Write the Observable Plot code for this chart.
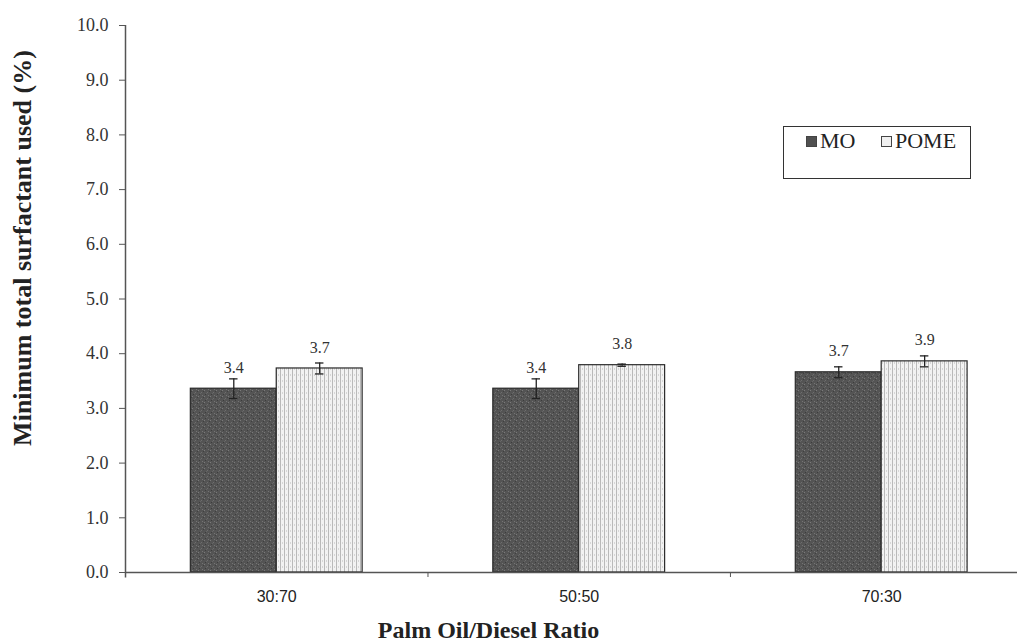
<!DOCTYPE html>
<html>
<head>
<meta charset="utf-8">
<script src="https://cdn.jsdelivr.net/npm/d3@7"></script>
<script src="https://cdn.jsdelivr.net/npm/@observablehq/plot@0.6"></script>
<style>
  html, body { margin: 0; padding: 0; background: #fff; }
  #wrap { position: relative; width: 1017px; height: 644px; }
  #legend {
    position: absolute; left: 783px; top: 126px; width: 186px; height: 51px;
    border: 1.5px solid #333; background: #fff; box-sizing: content-box;
    font-family: "Liberation Serif", "Times New Roman", serif; font-size: 22px; color: #222;
  }
  #legend .item { position: absolute; top: 1px; display: flex; align-items: center; height: 26px; }
  #legend .sw { width: 9px; height: 9px; border: 1px solid #444; margin-right: 3px; }
</style>
</head>
<body>
<div id="wrap"></div>
<script>
const categories = ["30:70", "50:50", "70:30"];
const seriesNames = ["MO", "POME"];
const moValues = [3.36, 3.36, 3.66];
const pomeValues = [3.73, 3.79, 3.86];
const moErrors = [0.18, 0.18, 0.10];
const pomeErrors = [0.10, 0.02, 0.10];
const yTicks = [0, 1, 2, 3, 4, 5, 6, 7, 8, 9, 10];
const xTitle = "Palm Oil/Diesel Ratio";
const yTitle = "Minimum total surfactant used (%)";

const half = 0.284;
const rows = [];
categories.forEach((c, i) => {
  rows.push({cat: c, series: "MO", x1: i - half, x2: i, xc: i - half / 2, value: moValues[i], err: moErrors[i]});
  rows.push({cat: c, series: "POME", x1: i, x2: i + half, xc: i + half / 2, value: pomeValues[i], err: pomeErrors[i]});
});
const mo = rows.filter(d => d.series === "MO");
const pome = rows.filter(d => d.series === "POME");
const cap = 0.014;

const chart = Plot.plot({
  width: 1017,
  height: 644,
  marginLeft: 125,
  marginRight: 0,
  marginTop: 25,
  marginBottom: 72,
  style: {fontFamily: "'Liberation Serif', 'Times New Roman', serif", color: "#222", background: "#fff"},
  x: {type: "linear", domain: [-0.5, 2.449], axis: null},
  y: {domain: [0, 10], axis: null},
  marks: [
    Plot.rectY(mo, {x1: "x1", x2: "x2", y1: 0, y2: "value", fill: "url(#moPat)", stroke: "#2a2a2a", strokeWidth: 1.2}),
    Plot.rectY(pome, {x1: "x1", x2: "x2", y1: 0, y2: "value", fill: "url(#pomePat)", stroke: "#2a2a2a", strokeWidth: 1.2}),
    Plot.ruleX(rows, {x: "xc", y1: d => d.value - d.err, y2: d => d.value + d.err, stroke: "#222", strokeWidth: 1.3}),
    Plot.ruleY(rows, {y: d => d.value + d.err, x1: d => d.xc - cap, x2: d => d.xc + cap, stroke: "#222", strokeWidth: 1.3}),
    Plot.ruleY(rows, {y: d => d.value - d.err, x1: d => d.xc - cap, x2: d => d.xc + cap, stroke: "#222", strokeWidth: 1.3}),
    Plot.text(rows, {x: "xc", y: "value", text: d => d.value.toFixed(1), dy: -21, fontSize: 16, fill: "#333"}),
    Plot.ruleY([0], {stroke: "#555", strokeWidth: 1.5}),
    Plot.ruleX([-0.5], {y1: -0.1, y2: 10, stroke: "#555", strokeWidth: 1.5}),
    Plot.axisY({ticks: yTicks, tickFormat: d => d.toFixed(1), tickSize: 6, tickPadding: 11, fontSize: 18, stroke: "#555", fill: "#333", label: null}),
    Plot.axisX({ticks: [0.5, 1.5], tickFormat: () => "", tickSize: 5, stroke: "#555", label: null}),
    Plot.axisX({ticks: [0, 1, 2], tickFormat: i => categories[i], tickSize: 0, tickPadding: 18, fontSize: 16, fontFamily: "'Liberation Sans', Arial, sans-serif", fill: "#222", label: null}),
    Plot.text([yTitle], {frameAnchor: "left", textAnchor: "middle", lineAnchor: "middle", rotate: -90, dx: -103, dy: -51, fontSize: 26, fontWeight: "bold", fill: "#222"}),
    Plot.text([xTitle], {frameAnchor: "bottom", textAnchor: "middle", lineAnchor: "middle", dx: -83, dy: 58, fontSize: 24, fontWeight: "bold", fill: "#222"})
  ]
});

const ns = "http://www.w3.org/2000/svg";
const defs = document.createElementNS(ns, "defs");
defs.innerHTML = `
  <pattern id="moPat" patternUnits="userSpaceOnUse" width="6" height="6">
    <rect width="6" height="6" fill="#545454"/>
    <rect x="0" y="0" width="1" height="1" fill="#7a7a7a"/>
    <rect x="3" y="2" width="1" height="1" fill="#6e6e6e"/>
    <rect x="1" y="4" width="1" height="1" fill="#3c3c3c"/>
    <rect x="4" y="5" width="1" height="1" fill="#747474"/>
    <rect x="5" y="1" width="1" height="1" fill="#404040"/>
    <rect x="2" y="3" width="1" height="1" fill="#666"/>
  </pattern>
  <pattern id="pomePat" patternUnits="userSpaceOnUse" width="4" height="6">
    <rect width="4" height="6" fill="#f2f2f2"/>
    <rect x="0" y="0" width="1" height="6" fill="#b9b9b9"/>
    <rect x="2" y="2" width="1" height="2" fill="#d6d6d6"/>
  </pattern>`;
chart.insertBefore(defs, chart.firstChild);

const wrap = document.getElementById("wrap");
wrap.appendChild(chart);

const legend = document.createElement("div");
legend.id = "legend";
const fills = {MO: "#505050", POME: "#f0f0f0"};
const lefts = {MO: 22, POME: 97};
seriesNames.forEach(name => {
  const item = document.createElement("div");
  item.className = "item";
  item.style.left = lefts[name] + "px";
  const sw = document.createElement("span");
  sw.className = "sw";
  sw.style.background = fills[name];
  const t = document.createElement("span");
  t.textContent = name;
  item.appendChild(sw);
  item.appendChild(t);
  legend.appendChild(item);
});
wrap.appendChild(legend);
</script>
</body>
</html>
